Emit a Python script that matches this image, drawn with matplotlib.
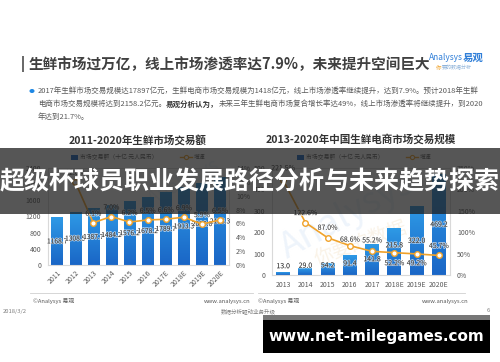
import matplotlib
matplotlib.use('Agg')
import matplotlib.pyplot as plt
import numpy as np
from matplotlib.patches import Rectangle
from matplotlib.lines import Line2D
from matplotlib.colors import LinearSegmentedColormap
import matplotlib.patheffects as pe

plt.rcParams['font.family'] = ['Noto Sans CJK SC', 'DejaVu Sans']

# ---------------- data ----------------
page_title = '生鲜市场过万亿，线上市场渗透率达7.9%，未来提升空间巨大'
bullet_line1 = '2017年生鲜市场交易规模达17897亿元，生鲜电商市场交易规模为1418亿元，线上市场渗透率继续提升，达到7.9%。预计2018年生鲜'
bullet_line2_a = '电商市场交易规模将达到2158.2亿元。'
bullet_line2_b = '易观分析认为，'
bullet_line2_c = '未来三年生鲜电商市场复合增长率达49%，线上市场渗透率将继续提升，到2020'
bullet_line3 = '年达到21.7%。'
banner_text = '超级杯球员职业发展路径分析与未来趋势探索'
watermark_url = 'www.net-milegames.com'

left_title = '2011-2020年生鲜市场交易额'
left_years = ['2011', '2012', '2013', '2014', '2015', '2016', '2017E', '2018E', '2019E', '2020E']
left_values = [1168.7, 1308.5, 1387.7, 1484.2, 1576.2, 1678.2, 1789.7, 1913.3, 2026.6, 2158.3]
left_growth_years = ['2012', '2013', '2014', '2015', '2016', '2017E', '2018E', '2019E', '2020E']
left_growth = [12.0, 6.1, 7.0, 6.2, 6.5, 6.6, 6.9, 5.9, 6.5]
left_yticks = [0, 400, 800, 1200, 1600, 2000, 2400]
left_rticks = [0, 2, 4, 6, 8, 10, 12, 14]

right_title = '2013-2020年中国生鲜电商市场交易规模'
right_years = ['2013', '2014', '2015', '2016', '2017', '2018E', '2019E', '2020E']
right_values = [13.0, 29.0, 54.2, 91.4, 141.8, 215.8, 322.0, 469.2]
right_growth = [221.5, 122.6, 87.0, 68.6, 55.2, 52.2, 49.2, 45.7]
right_yticks = [0, 100, 200, 300, 400, 500]
right_rticks = [0, 50, 100, 150, 200, 250]

legend_bar = '市场交易额（十亿 元人民币）'
legend_line = '增速'

# ---------------- style ----------------
W, H = 500, 362
def fx(x): return x / W
def fy(y): return 1 - y / H

GRAY = '#595959'
ORANGE = '#f0a22a'
cmap = LinearSegmentedColormap.from_list('bars', ['#1a66c6', '#2e9ae6'])
grad = np.linspace(0, 1, 256).reshape(-1, 1)

fig = plt.figure(figsize=(5, 3.62), dpi=100)
fig.patch.set_facecolor('white')

# header
fig.add_artist(Rectangle((fx(22), fy(72)), 2 / W, 16 / H, transform=fig.transFigure,
                         color='#6b6b6b', lw=0))
fig.text(fx(29), fy(64), page_title, fontsize=10.5, fontweight='bold', color='#404040', va='center')
fig.text(fx(429), fy(58), 'Analysys', fontsize=6, style='italic', color='#2f7ed8', va='center')
fig.text(fx(463), fy(58), '易观', fontsize=7.5, fontweight='bold', color='#2f7ed8', va='center')
fig.text(fx(436), fy(68), '你', fontsize=4, color='#f0a22a', va='center')
fig.text(fx(442), fy(68), '要的数据分析', fontsize=3.6, style='italic', color='#8fb3d9', va='center')

# bullet text
fig.add_artist(plt.Circle((fx(32), fy(91)), 1.8 / W, transform=fig.transFigure, color='#1e88e5'))
bfs = 5.4
fig.text(fx(38), fy(91), bullet_line1, fontsize=bfs, color=GRAY, va='center')
renderer = fig.canvas.get_renderer()
xcur = fx(38)
for s, w, c in [(bullet_line2_a, 'normal', GRAY), (bullet_line2_b, 'bold', '#333333'),
                (bullet_line2_c, 'normal', GRAY)]:
    t = fig.text(xcur, fy(104), s, fontsize=bfs, fontweight=w, color=c, va='center')
    xcur += t.get_window_extent(renderer).width / fig.bbox.width
fig.text(fx(38), fy(117), bullet_line3, fontsize=bfs, color=GRAY, va='center')


def style_axes(ax, ax2):
    for sp in ax.spines.values():
        sp.set_color('#d9d9d9')
        sp.set_linewidth(0.8)
    for sp in ax2.spines.values():
        sp.set_visible(False)
    ax.tick_params(length=0, labelsize=5, colors=GRAY, pad=5)
    ax2.tick_params(length=0, labelsize=5, colors=GRAY, pad=5)
    ax.set_zorder(1)
    ax2.set_zorder(2)
    ax2.patch.set_visible(False)


def gradient_bars(ax, x, vals):
    bars = ax.bar(x, vals, width=0.62, color='none', zorder=2)
    for b in bars:
        ax.imshow(grad, extent=[b.get_x(), b.get_x() + b.get_width(), 0, b.get_height()],
                  origin='lower', cmap=cmap, aspect='auto', zorder=2)
    return bars


halo = [pe.withStroke(linewidth=1.2, foreground=(1, 1, 1, 0.6))]

# ---------------- left chart ----------------
axL = fig.add_axes([fx(48), fy(265), 181 / W, 97 / H])
axL.text(0.75, 0.85, 'Analysys', transform=axL.transAxes, rotation=28, fontsize=14,
         color='#eef4fb', ha='center', va='center', zorder=0.5)
axL2 = axL.twinx()
xl = np.arange(len(left_years))
barsL = gradient_bars(axL, xl, left_values)
axL.set_xlim(-0.5, len(left_years) - 0.5)
axL.set_ylim(0, 2400)
axL.set_yticks(left_yticks)
axL.set_xticks(xl)
axL.set_xticklabels(left_years, rotation=45, ha='right', rotation_mode='anchor')
gxl = [left_years.index(y) for y in left_growth_years]
axL2.plot(gxl, left_growth, color=ORANGE, lw=1.2, marker='o', ms=4,
          mfc='white', mec=ORANGE, mew=1, zorder=3)
axL2.set_ylim(0, 14)
axL2.set_yticks(left_rticks)
axL2.set_yticklabels([f'{v}%' for v in left_rticks])
style_axes(axL, axL2)
axL.tick_params(axis='x', pad=3)
for b, v in zip(barsL, left_values):
    axL.text(b.get_x() + b.get_width() / 2, v / 2, f'{v:.1f}', ha='center', va='center',
             fontsize=4.8, color='#333333', zorder=4, path_effects=halo)
for gx, g in zip(gxl, left_growth):
    axL2.annotate(f'{g:.1f}%', (gx, g), xytext=(0, 6.5), textcoords='offset points',
                  ha='center', va='center', fontsize=5, color='#404040', path_effects=halo)

fig.text(fx(138), fy(140), left_title, fontsize=7.6, fontweight='bold', color='#333333',
         ha='center', va='center')

# ---------------- right chart ----------------
axR = fig.add_axes([fx(272), fy(275), 178 / W, 107 / H])
axR.text(0.42, 0.55, 'Analysys', transform=axR.transAxes, rotation=28, fontsize=26,
         color='#eef4fb', ha='center', va='center', zorder=0.5)
axR.text(0.5, 0.3, '你要的数据', transform=axR.transAxes, rotation=20, fontsize=14,
         color='#faf3e8', ha='center', va='center', zorder=0.5)
axR2 = axR.twinx()
xr = np.arange(len(right_years))
barsR = gradient_bars(axR, xr, right_values)
axR.set_xlim(-0.5, len(right_years) - 0.5)
axR.set_ylim(0, 500)
axR.set_yticks(right_yticks)
axR.set_xticks(xr)
axR.set_xticklabels(right_years)
axR2.plot(xr, right_growth, color=ORANGE, lw=1.2, marker='o', ms=4,
          mfc='white', mec=ORANGE, mew=1, zorder=3)
axR2.set_ylim(0, 250)
axR2.set_yticks(right_rticks)
axR2.set_yticklabels([f'{v}%' for v in right_rticks])
style_axes(axR, axR2)
axR.tick_params(axis='x', pad=4)
val_off = [4.3, 2.2, -1.4, -5.8, -10.5, -11.9, -25, -36]
grw_off = [8.6, 6.8, 7.2, 4.3, 7.9, -7.6, -6.7, 6.8]
for b, v, o in zip(barsR, right_values, val_off):
    axR.annotate(f'{v:.1f}', (b.get_x() + b.get_width() / 2, v), xytext=(0, o),
                 textcoords='offset points', ha='center', va='center',
                 fontsize=5, color='#333333', zorder=4, path_effects=halo)
for gx, g, o in zip(xr, right_growth, grw_off):
    axR2.annotate(f'{g:.1f}%', (gx, g), xytext=(0, o), textcoords='offset points',
                  ha='center', va='center', fontsize=5, color='#404040', path_effects=halo)

fig.text(fx(361), fy(139), right_title, fontsize=7.6, fontweight='bold', color='#333333',
         ha='center', va='center')

# legends
for sx, tx, lx, ltx in [(71, 80, 180, 194), (297, 306, 406, 420)]:
    fig.add_artist(Rectangle((fx(sx), fy(160)), 7 / W, 5 / H, transform=fig.transFigure,
                             color='#1a66c6', lw=0))
    fig.text(fx(tx), fy(157), legend_bar, fontsize=4.2, color=GRAY, va='center')
    fig.add_artist(Line2D([fx(lx), fx(lx + 12)], [fy(157), fy(157)], transform=fig.transFigure,
                          color=ORANGE, lw=1))
    fig.add_artist(Line2D([fx(lx + 6)], [fy(157)], transform=fig.transFigure, marker='o',
                          ms=3, mfc='white', mec=ORANGE, mew=0.8))
    fig.text(fx(ltx), fy(157), legend_line, fontsize=4.2, color=GRAY, va='center')

# footers
for x0, x1 in [(30, 253), (258, 465)]:
    fig.add_artist(Line2D([fx(x0), fx(x1)], [fy(293), fy(293)], transform=fig.transFigure,
                          color='#d0d0d0', lw=0.6))
fig.text(fx(33), fy(301), '©Analysys 易观', fontsize=4.2, color=GRAY, va='center')
fig.text(fx(250), fy(301), 'www.analysys.cn', fontsize=4.2, color=GRAY, va='center', ha='right')
fig.text(fx(258), fy(301), '©Analysys 易观', fontsize=4.2, color=GRAY, va='center')
fig.text(fx(468), fy(301), 'www.analysys.cn', fontsize=4.2, color=GRAY, va='center', ha='right')
fig.text(fx(3), fy(311), '2018/3/2', fontsize=4.2, color='#7f7f7f', va='center')
fig.text(fx(248), fy(311), '数据分析驱动业务升级', fontsize=4, color='#7f7f7f', va='center', ha='center')
fig.text(fx(487), fy(311), '6', fontsize=4.2, color='#7f7f7f', va='center')

# overlay banner
fig.add_artist(Rectangle((0, fy(214)), 1, 66 / H, transform=fig.transFigure,
                         facecolor='#1e1e1e', alpha=0.75, lw=0, zorder=20))
fig.text(0.5, fy(182), banner_text, fontsize=18, fontweight='bold', color='white',
         ha='center', va='center', zorder=21)

# url box
fig.add_artist(Rectangle((fx(263), fy(320)), 227 / W, 5 / H, transform=fig.transFigure,
                         facecolor='#777777', lw=0, zorder=20))
fig.add_artist(Rectangle((fx(263), fy(353)), 227 / W, 33 / H, transform=fig.transFigure,
                         facecolor='black', lw=0, zorder=20))
fig.text(fx(376), fy(337), watermark_url, fontsize=11, fontweight='bold', color='white',
         family='DejaVu Sans', ha='center', va='center', zorder=21)

fig.savefig('out.png', dpi=100)
